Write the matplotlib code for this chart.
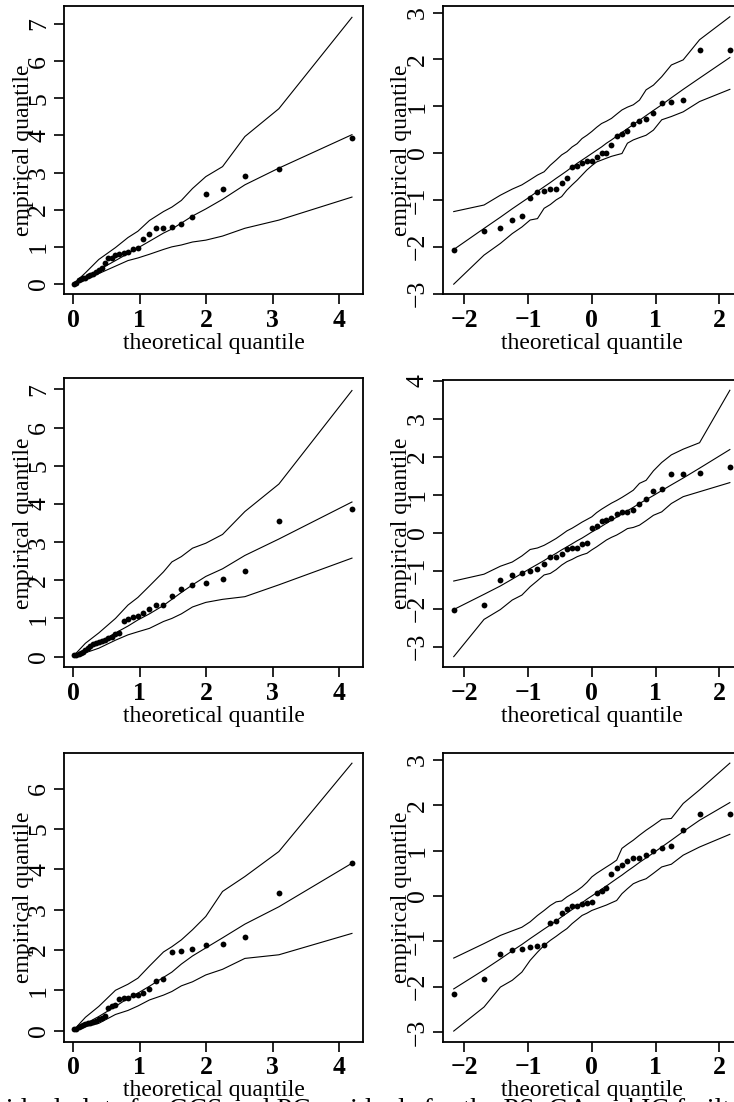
import matplotlib
matplotlib.use("Agg")
import matplotlib.pyplot as plt

plt.rcParams["font.family"] = ["Liberation Serif", "DejaVu Serif"]
plt.rcParams["axes.unicode_minus"] = True

# theoretical quantiles (n = 33): unit exponential for GCS, standard normal for PC
exp_q = [0.015, 0.047, 0.079, 0.112, 0.147, 0.182, 0.219, 0.258, 0.298, 0.340,
         0.383, 0.428, 0.476, 0.526, 0.579, 0.634, 0.693, 0.756, 0.822, 0.894,
         0.971, 1.054, 1.145, 1.245, 1.356, 1.482, 1.625, 1.792, 1.992, 2.244,
         2.580, 3.091, 4.190]
norm_q = [-2.166, -1.691, -1.434, -1.248, -1.097, -0.967, -0.852, -0.748, -0.651,
          -0.559, -0.473, -0.390, -0.309, -0.230, -0.153, -0.076, 0.0, 0.076,
          0.153, 0.230, 0.309, 0.390, 0.473, 0.559, 0.651, 0.748, 0.852, 0.967,
          1.097, 1.248, 1.434, 1.691, 2.166]
# vertices used for the envelope lines in the GCS panels
exp_env_q = [0.015, 0.182, 0.383, 0.634, 0.822, 0.971, 1.145, 1.356, 1.482,
             1.625, 1.792, 1.992, 2.244, 2.580, 3.091, 4.190]

# ---- PS model ----
ps_gcs = [0.01, 0.03, 0.10, 0.13, 0.15, 0.17, 0.21, 0.25, 0.28, 0.33, 0.38,
          0.42, 0.57, 0.69, 0.71, 0.77, 0.80, 0.84, 0.87, 0.94, 0.96, 1.21,
          1.34, 1.50, 1.51, 1.54, 1.61, 1.80, 2.42, 2.56, 2.92, 3.09, 3.94]
ps_gcs_upper = [0.02, 0.30, 0.66, 0.98, 1.25, 1.42, 1.71, 1.95, 2.07, 2.25,
                2.57, 2.89, 3.16, 3.97, 4.72, 7.18]
ps_gcs_mid = [0.01, 0.18, 0.38, 0.63, 0.82, 0.97, 1.15, 1.37, 1.48, 1.64,
              1.83, 2.02, 2.28, 2.67, 3.12, 4.02]
ps_gcs_lower = [0.0, 0.13, 0.28, 0.48, 0.63, 0.70, 0.80, 0.93, 1.00, 1.05,
                1.13, 1.18, 1.29, 1.50, 1.72, 2.34]

ps_pc = [-2.06, -1.67, -1.60, -1.42, -1.34, -0.97, -0.83, -0.80, -0.77, -0.76,
         -0.63, -0.53, -0.29, -0.27, -0.22, -0.17, -0.16, -0.09, 0.01, 0.01,
         0.17, 0.37, 0.41, 0.47, 0.61, 0.69, 0.72, 0.85, 1.06, 1.10, 1.13,
         2.19, 2.19]
ps_pc_upper = [-1.25, -1.11, -0.90, -0.77, -0.68, -0.57, -0.47, -0.40, -0.26,
               -0.15, -0.04, 0.03, 0.13, 0.20, 0.31, 0.38, 0.46, 0.55, 0.63,
               0.68, 0.74, 0.83, 0.92, 0.98, 1.03, 1.13, 1.35, 1.45, 1.63,
               1.88, 1.99, 2.42, 2.91]
ps_pc_mid = [-2.06, -1.61, -1.37, -1.19, -1.05, -0.93, -0.82, -0.72, -0.63,
             -0.54, -0.46, -0.38, -0.30, -0.22, -0.15, -0.08, -0.01, 0.06,
             0.13, 0.21, 0.28, 0.36, 0.44, 0.52, 0.61, 0.70, 0.80, 0.91, 1.03,
             1.18, 1.36, 1.60, 2.04]
ps_pc_lower = [-2.80, -2.18, -1.93, -1.72, -1.58, -1.43, -1.40, -1.18, -1.10,
               -1.00, -0.93, -0.79, -0.68, -0.58, -0.47, -0.36, -0.27, -0.19,
               -0.15, -0.11, -0.07, -0.04, -0.01, 0.21, 0.28, 0.33, 0.38, 0.49,
               0.71, 0.78, 0.88, 1.10, 1.36]

# ---- GA model ----
ga_gcs = [0.04, 0.05, 0.07, 0.09, 0.13, 0.17, 0.22, 0.28, 0.33, 0.36, 0.37,
          0.40, 0.44, 0.48, 0.51, 0.59, 0.61, 0.94, 0.98, 1.05, 1.07, 1.14,
          1.26, 1.35, 1.36, 1.59, 1.76, 1.88, 1.94, 2.03, 2.24, 3.54, 3.86]
ga_gcs_upper = [0.04, 0.35, 0.62, 1.00, 1.35, 1.55, 1.85, 2.22, 2.48, 2.62,
                2.84, 2.97, 3.20, 3.80, 4.52, 6.97]
ga_gcs_mid = [0.03, 0.17, 0.37, 0.62, 0.80, 0.96, 1.12, 1.34, 1.50, 1.68,
              1.88, 2.10, 2.30, 2.65, 3.08, 4.05]
ga_gcs_lower = [0.02, 0.10, 0.22, 0.43, 0.57, 0.65, 0.74, 0.92, 1.00, 1.12,
                1.30, 1.42, 1.50, 1.57, 1.88, 2.58]

ga_pc = [-2.02, -1.89, -1.24, -1.11, -1.05, -1.01, -0.95, -0.81, -0.65, -0.64,
         -0.56, -0.44, -0.39, -0.39, -0.29, -0.27, 0.12, 0.19, 0.32, 0.33,
         0.38, 0.49, 0.54, 0.55, 0.59, 0.77, 0.88, 1.10, 1.15, 1.54, 1.54,
         1.58, 1.73]
ga_pc_upper = [-1.27, -1.09, -0.88, -0.77, -0.61, -0.44, -0.40, -0.33, -0.24,
               -0.15, -0.05, 0.05, 0.12, 0.20, 0.28, 0.35, 0.42, 0.53, 0.62,
               0.70, 0.78, 0.85, 0.93, 1.02, 1.12, 1.30, 1.38, 1.63, 1.85,
               2.05, 2.20, 2.37, 3.75]
ga_pc_mid = [-2.02, -1.62, -1.40, -1.22, -1.07, -0.94, -0.83, -0.73, -0.63,
             -0.54, -0.45, -0.37, -0.29, -0.21, -0.14, -0.06, 0.02, 0.09,
             0.17, 0.25, 0.33, 0.41, 0.49, 0.58, 0.67, 0.77, 0.87, 0.98, 1.11,
             1.26, 1.44, 1.70, 2.19]
ga_pc_lower = [-3.26, -2.28, -2.02, -1.77, -1.64, -1.42, -1.26, -1.11, -1.07,
               -0.97, -0.85, -0.76, -0.70, -0.63, -0.58, -0.54, -0.45, -0.37,
               -0.28, -0.19, -0.12, -0.06, 0.02, 0.11, 0.14, 0.20, 0.32, 0.46,
               0.55, 0.77, 0.95, 1.08, 1.32]

# ---- IC model ----
ic_gcs = [0.03, 0.05, 0.09, 0.12, 0.14, 0.16, 0.18, 0.20, 0.22, 0.25, 0.28,
          0.31, 0.37, 0.55, 0.60, 0.63, 0.79, 0.82, 0.82, 0.88, 0.88, 0.93,
          1.03, 1.24, 1.29, 1.96, 1.98, 2.03, 2.13, 2.15, 2.31, 3.40, 4.15]
ic_gcs_upper = [0.03, 0.33, 0.60, 1.00, 1.15, 1.30, 1.60, 1.95, 2.08, 2.25,
                2.50, 2.83, 3.45, 3.82, 4.44, 6.63]
ic_gcs_mid = [0.03, 0.17, 0.35, 0.60, 0.80, 0.93, 1.10, 1.32, 1.45, 1.65,
              1.85, 2.05, 2.30, 2.64, 3.07, 4.15]
ic_gcs_lower = [0.02, 0.10, 0.18, 0.40, 0.50, 0.61, 0.76, 0.88, 0.97, 1.11,
                1.21, 1.38, 1.52, 1.79, 1.88, 2.41]

ic_pc = [-2.16, -1.84, -1.29, -1.20, -1.18, -1.13, -1.11, -1.09, -0.60, -0.56,
         -0.38, -0.28, -0.22, -0.22, -0.17, -0.15, -0.13, 0.07, 0.11, 0.18,
         0.48, 0.62, 0.68, 0.77, 0.83, 0.84, 0.90, 0.99, 1.05, 1.11, 1.45,
         1.80, 1.80]
ic_pc_upper = [-1.37, -1.05, -0.87, -0.77, -0.69, -0.57, -0.43, -0.32, -0.21,
               -0.13, -0.11, -0.02, 0.05, 0.12, 0.20, 0.30, 0.42, 0.50, 0.57,
               0.64, 0.71, 0.79, 1.05, 1.14, 1.23, 1.34, 1.45, 1.56, 1.69,
               1.71, 2.04, 2.34, 2.93]
ic_pc_mid = [-2.05, -1.63, -1.39, -1.21, -1.07, -0.94, -0.83, -0.73, -0.64,
             -0.55, -0.46, -0.38, -0.30, -0.22, -0.15, -0.07, 0.0, 0.07, 0.15,
             0.22, 0.30, 0.38, 0.46, 0.55, 0.64, 0.74, 0.84, 0.95, 1.08, 1.23,
             1.42, 1.67, 2.06]
ic_pc_lower = [-2.98, -2.45, -2.01, -1.86, -1.68, -1.42, -1.24, -1.09, -0.98,
               -0.89, -0.80, -0.72, -0.61, -0.52, -0.43, -0.38, -0.32, -0.28,
               -0.24, -0.20, -0.15, -0.10, 0.05, 0.16, 0.27, 0.33, 0.38, 0.50,
               0.64, 0.70, 0.90, 1.08, 1.36]

gcs_xticks = [0, 1, 2, 3, 4]
pc_xticks = [-2, -1, 0, 1, 2]

W, H = 734, 1102
fig = plt.figure(figsize=(W / 100, H / 100), dpi=100)


def px_axes(x0, y0, x1, y1):
    return fig.add_axes([x0 / W, 1 - y1 / H, (x1 - x0) / W, (y1 - y0) / H])


def qq_panel(ax, xq, emp, env_x, upper, mid, lower, xlim, ylim, xticks, yticks):
    for band in (upper, mid, lower):
        ax.plot(env_x, band, color="black", lw=0.8, solid_joinstyle="miter")
    ax.plot(xq, emp, "o", color="black", ms=4.2, mec="black", mew=0)
    ax.set_xlim(*xlim)
    ax.set_ylim(*ylim)
    ax.set_xticks(xticks)
    ax.set_yticks(yticks)
    ax.set_xticklabels([str(t).replace("-", "\u2212") for t in xticks],
                       fontweight="bold", fontsize=18.5)
    ax.set_yticklabels([str(t).replace("-", "\u2212") for t in yticks],
                       fontsize=18.5, rotation=90, va="center")
    ax.tick_params(length=7, width=1.2, pad=3.5)
    ax.tick_params(axis="y", pad=3)
    for sp in ax.spines.values():
        sp.set_linewidth(1.3)
    ax.set_xlabel("theoretical quantile", fontsize=17, labelpad=1)
    ax.set_ylabel("empirical quantile", fontsize=17, labelpad=-4)


gcs_xlim = (-0.14, 4.356)
pc_xlim = (-2.339, 2.344)

rows = [
    (6, 294, 6, 294,
     ps_gcs, ps_gcs_upper, ps_gcs_mid, ps_gcs_lower, (-0.27, 7.485), range(0, 8),
     ps_pc, ps_pc_upper, ps_pc_mid, ps_pc_lower, (-3.01, 3.14), range(-3, 4)),
    (378.3, 667.3, 380, 667.3,
     ga_gcs, ga_gcs_upper, ga_gcs_mid, ga_gcs_lower, (-0.28, 7.29), range(0, 8),
     ga_pc, ga_pc_upper, ga_pc_mid, ga_pc_lower, (-3.54, 4.02), range(-3, 5)),
    (752.7, 1041.5, 752.7, 1041.5,
     ic_gcs, ic_gcs_upper, ic_gcs_mid, ic_gcs_lower, (-0.27, 6.89), range(0, 7),
     ic_pc, ic_pc_upper, ic_pc_mid, ic_pc_lower, (-3.21, 3.16), range(-3, 4)),
]

for (lt, lb, rt, rb, g, gu, gm, gl, gylim, gyt, p, pu, pm, pl, pylim, pyt) in rows:
    axl = px_axes(64, lt, 363, lb)
    qq_panel(axl, exp_q, g, exp_env_q, gu, gm, gl, gcs_xlim, gylim,
             gcs_xticks, list(gyt))
    axr = px_axes(442.7, rt, 741.2, rb)
    qq_panel(axr, norm_q, p, norm_q, pu, pm, pl, pc_xlim, pylim,
             pc_xticks, list(pyt))

fig.text(-36 / W, -15 / H,
         "Residual plots for GCS and PC residuals for the PS, GA and IC frailty models.",
         fontsize=20, ha="left", va="baseline")

fig.savefig("out.png", dpi=100)
